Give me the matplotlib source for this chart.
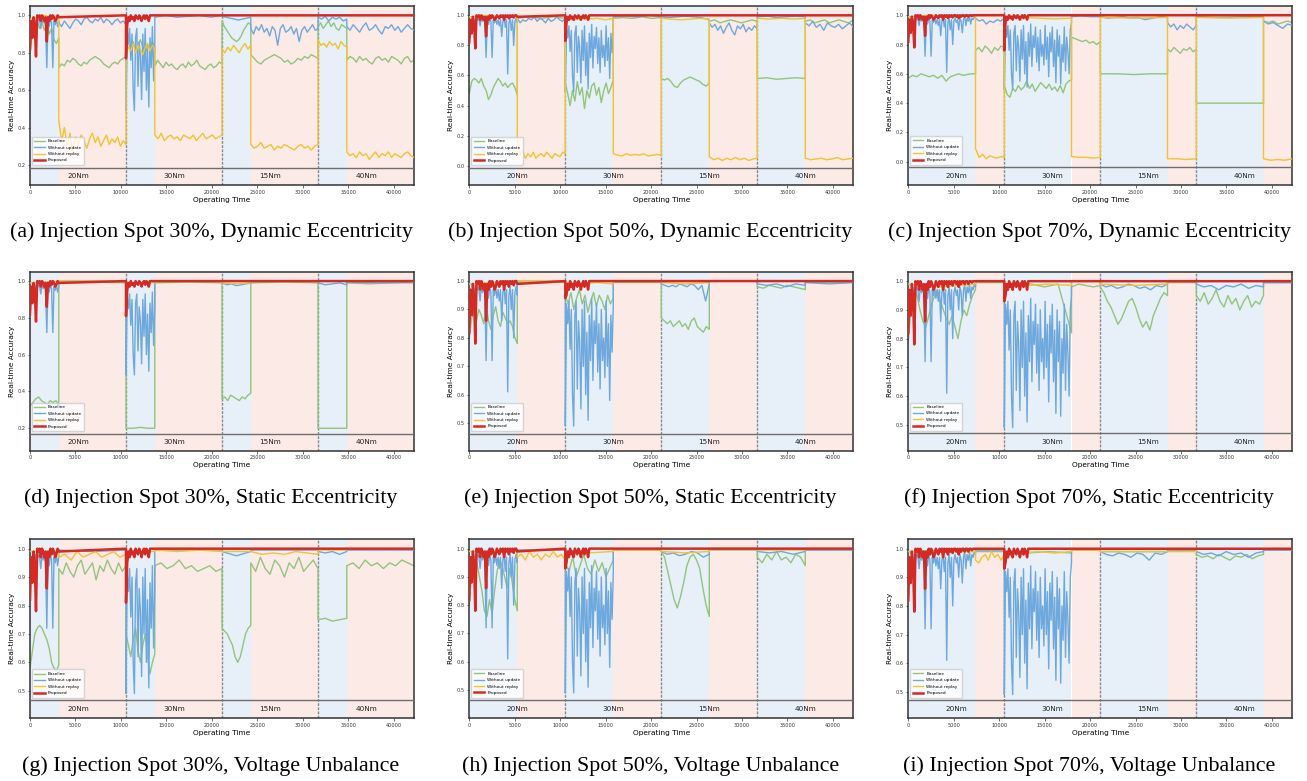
import numpy as np
import matplotlib
matplotlib.use("Agg")
import matplotlib.pyplot as plt

# ---------------- structure ----------------
D = 10560            # length of one operating-condition domain
XMAX = 4 * D
STEP = 132           # spacing of the shared arrays below
domain_labels = ["20Nm", "30Nm", "15Nm", "40Nm"]
series_names = ["Baseline", "Without update", "Without replay", "Proposed"]
colors = ["#93c47d", "#6fa8dc", "#f1c232", "#d42a24"]

panel_letters = ["a", "b", "c", "d", "e", "f", "g", "h", "i"]
spots = [30, 50, 70, 30, 50, 70, 30, 50, 70]
faults = ["Dynamic Eccentricity"] * 3 + ["Static Eccentricity"] * 3 + ["Voltage Unbalance"] * 3

# ---------------- shared pieces ----------------
upd_d1 = [0.90, 0.96, 0.93, 0.97, 0.95, 0.98, 0.96, 0.98, 0.97, 0.93, 0.98, 0.96, 0.98, 0.95, 0.72,
          0.97, 0.94, 0.98, 0.96, 0.72, 0.97, 0.95, 0.98, 0.94, 0.97, 0.93, 0.97, 0.86, 0.96, 0.98,
          0.92, 0.97, 0.61, 0.95, 0.98, 0.90, 0.97, 0.80, 0.96, 0.98, 0.95, 0.97, 0.90, 0.98, 0.96,
          0.88, 0.97, 0.99, 0.93, 0.98, 0.96, 0.99, 0.94, 0.98, 0.97, 0.99, 0.98]
upd_d2 = [0.49, 0.92, 0.85, 0.93, 0.76, 0.90, 0.60, 0.49, 0.88, 0.93, 0.62, 0.86, 0.78, 0.55, 0.90,
          0.70, 0.93, 0.60, 0.82, 0.51, 0.88, 0.72, 0.94, 0.65, 0.86, 0.78, 0.92, 0.68, 0.85, 0.62,
          0.90, 0.72, 0.80, 0.66, 0.93, 0.70, 0.85, 0.58, 0.88, 0.75, 0.92, 0.65, 0.83, 0.54, 0.90,
          0.72, 0.86, 0.53, 0.80, 0.68, 0.92, 0.62, 0.85, 0.75, 0.60, 0.90, 0.95]
prop_d1 = [0.82, 0.97, 0.88, 0.99, 0.94, 0.78, 1.00, 0.99, 1.00, 0.97, 1.00, 0.99, 0.97, 0.99, 0.86,
           0.99, 0.97, 1.00, 0.98, 1.00, 0.99, 0.97, 0.98, 1.00, 0.99, 0.98, 1.00, 0.99, 1.00, 0.97,
           1.00, 0.99, 1.00, 0.98, 1.00, 0.99, 1.00, 0.985, 1.00, 1.00, 0.99, 1.00, 0.98, 1.00, 0.99,
           1.00, 1.00, 0.99, 1.00, 1.00, 0.99, 1.00, 1.00, 0.995, 1.00, 1.00, 1.00]
prop_d2 = [0.82, 0.95, 0.99, 0.97, 1.00, 0.98, 0.99, 0.97, 1.00, 0.99, 0.98, 1.00, 0.99, 0.97, 0.99,
           1.00, 0.98, 1.00, 0.99, 0.97, 1.00]
prop_dip = [0.77, 0.83, 0.76, 0.81, 0.94, 0.93, 0.81, 0.93, 0.93]

# ---------------- per-panel pieces: [B1, R1, B2, R2, B3, R3, B4, R4] ----------------
a_base = [[0.80, 0.90, 0.95, 0.97, 0.93, 0.96, 0.92, 0.95, 0.90, 0.93, 0.87, 0.85, 0.88],
          [0.72, 0.74, 0.73, 0.76, 0.75, 0.77, 0.76, 0.74, 0.73, 0.75, 0.74, 0.76, 0.77, 0.78, 0.77, 0.76, 0.74, 0.73, 0.72, 0.74, 0.75, 0.74, 0.76, 0.77, 0.78],
          [0.89, 0.85, 0.82, 0.86, 0.80, 0.84, 0.87, 0.83, 0.79, 0.84, 0.82, 0.86, 0.83],
          [0.73, 0.76, 0.74, 0.72, 0.75, 0.73, 0.74, 0.72, 0.71, 0.73, 0.74, 0.72, 0.75, 0.73, 0.74, 0.76, 0.73, 0.72, 0.71, 0.73, 0.74, 0.72, 0.73, 0.75, 0.74],
          [0.97, 0.94, 0.92, 0.90, 0.88, 0.87, 0.86, 0.87, 0.89, 0.92, 0.94, 0.96, 0.95],
          [0.79, 0.77, 0.75, 0.74, 0.76, 0.77, 0.78, 0.79, 0.78, 0.77, 0.75, 0.76, 0.74, 0.75, 0.77, 0.76, 0.78, 0.77, 0.79, 0.78, 0.77],
          [0.94, 0.96, 0.93, 0.95, 0.97, 0.94, 0.96, 0.93, 0.92, 0.95, 0.94, 0.93],
          [0.76, 0.78, 0.77, 0.75, 0.78, 0.76, 0.77, 0.75, 0.74, 0.77, 0.78, 0.76, 0.77, 0.75, 0.78, 0.77, 0.76, 0.74, 0.77, 0.78, 0.75, 0.76]]
a_upd = [None,
         [0.96, 0.94, 0.97, 0.95, 0.93, 0.96, 0.98, 0.97, 0.95, 0.98, 0.99, 0.97, 0.96, 0.98, 0.97, 0.99, 0.96, 0.98, 0.97, 0.95, 0.97, 0.98, 0.96, 0.97, 0.95],
         None,
         [0.99, 1.00, 0.99, 0.995, 1.00, 0.99, 1.00],
         [0.995, 0.99, 0.985, 0.98, 0.975, 0.98, 0.985, 0.99],
         [0.93, 0.90, 0.94, 0.92, 0.95, 0.91, 0.93, 0.89, 0.94, 0.92, 0.84, 0.93, 0.95, 0.91, 0.92, 0.94, 0.90, 0.93, 0.86, 0.92, 0.94, 0.91, 0.93, 0.95, 0.92, 0.93],
         [0.99, 0.98, 0.995, 0.97, 0.99, 0.98, 0.99, 0.97, 0.98],
         [0.94, 0.92, 0.95, 0.93, 0.91, 0.94, 0.96, 0.92, 0.93, 0.95, 0.92, 0.90, 0.94, 0.93, 0.95, 0.92, 0.94, 0.91, 0.93, 0.95, 0.93, 0.92]]
a_rep = [[0.98, 0.99, 1.00, 0.99, 1.00],
         [0.44, 0.33, 0.40, 0.30, 0.37, 0.27, 0.35, 0.31, 0.36, 0.33, 0.29, 0.34, 0.37, 0.32, 0.35, 0.30, 0.33, 0.36, 0.31, 0.34, 0.32, 0.35, 0.30, 0.33, 0.31],
         [0.80, 0.83, 0.81, 0.85, 0.80, 0.84, 0.82, 0.79, 0.83, 0.85, 0.81, 0.84, 0.82],
         [0.36, 0.34, 0.37, 0.33, 0.35, 0.36, 0.34, 0.35, 0.33, 0.36, 0.35, 0.34, 0.36, 0.33, 0.35, 0.37, 0.34, 0.35, 0.36, 0.34, 0.35, 0.36],
         [0.82, 0.80, 0.83, 0.81, 0.84, 0.82, 0.80, 0.83, 0.85, 0.82, 0.84],
         [0.31, 0.29, 0.30, 0.32, 0.29, 0.30, 0.31, 0.28, 0.30, 0.29, 0.31, 0.30, 0.29, 0.28, 0.30, 0.31, 0.29, 0.30, 0.28, 0.30, 0.31],
         [0.87, 0.84, 0.85, 0.83, 0.86, 0.84, 0.85, 0.82, 0.86, 0.84, 0.83],
         [0.27, 0.25, 0.26, 0.24, 0.27, 0.25, 0.26, 0.23, 0.25, 0.27, 0.24, 0.26, 0.25, 0.27, 0.24, 0.26, 0.25, 0.24, 0.26, 0.27, 0.25, 0.24]]

b_base = [[0.48, 0.56, 0.58, 0.57, 0.55, 0.58, 0.53, 0.50, 0.44, 0.47, 0.52, 0.55, 0.58, 0.56, 0.53, 0.55, 0.52, 0.54, 0.55, 0.52, 0.47],
          [0.98, 0.99, 0.98, 0.99, 0.98],
          [0.55, 0.48, 0.40, 0.50, 0.43, 0.56, 0.47, 0.52, 0.38, 0.50, 0.45, 0.53, 0.55, 0.47, 0.52, 0.42, 0.50, 0.55, 0.48, 0.52, 0.57],
          [0.98, 0.985, 0.98, 0.99, 0.98, 0.985],
          [0.58, 0.57, 0.58, 0.56, 0.53, 0.52, 0.55, 0.57, 0.58, 0.59, 0.58, 0.57, 0.56, 0.54, 0.53, 0.55],
          [0.96, 0.97, 0.95, 0.96, 0.97, 0.96, 0.95, 0.96, 0.97, 0.96],
          [0.58, 0.585, 0.575, 0.58, 0.585, 0.58],
          [0.96, 0.97, 0.95, 0.96, 0.97, 0.95, 0.96, 0.97, 0.96, 0.95, 0.97]]
b_upd = [None,
         [0.98, 0.95, 0.97, 0.96, 0.98, 0.97, 0.99, 0.96, 0.98, 0.97, 0.95, 0.98, 0.96, 0.97, 0.99, 0.97, 0.96, 0.98],
         None,
         [0.99, 0.995, 0.99, 1.00, 0.99],
         [0.99, 0.985, 0.99, 0.995, 0.99, 0.985, 0.97],
         [0.95, 0.92, 0.94, 0.90, 0.93, 0.88, 0.92, 0.95, 0.90, 0.87, 0.93, 0.91, 0.94, 0.89, 0.92, 0.90, 0.93, 0.91],
         [0.99, 0.995, 0.985, 0.99, 0.995, 0.99],
         [0.95, 0.93, 0.96, 0.92, 0.94, 0.90, 0.95, 0.93, 0.92, 0.94, 0.91, 0.93, 0.95, 0.92]]
b_rep = [[0.99, 1.00, 0.99, 1.00],
         [0.18, 0.07, 0.10, 0.05, 0.08, 0.06, 0.09, 0.05, 0.07, 0.08, 0.06, 0.09, 0.07, 0.05, 0.08, 0.07, 0.06, 0.09, 0.08],
         [0.98, 0.97, 0.98, 0.975, 0.98, 0.97, 0.98],
         [0.08, 0.07, 0.065, 0.08, 0.07, 0.075, 0.07, 0.08, 0.065, 0.07, 0.075, 0.07],
         [0.98, 0.975, 0.97, 0.975, 0.98, 0.975],
         [0.06, 0.04, 0.05, 0.035, 0.05, 0.04, 0.055, 0.04, 0.05, 0.035, 0.045, 0.05],
         [0.98, 0.975, 0.98, 0.975, 0.98],
         [0.05, 0.04, 0.045, 0.05, 0.04, 0.045, 0.055, 0.04, 0.045, 0.05]]

c_base = [[0.57, 0.59, 0.58, 0.60, 0.59, 0.58, 0.59, 0.57, 0.59, 0.55, 0.58, 0.59, 0.60, 0.59, 0.595, 0.60, 0.60],
          [0.76, 0.78, 0.75, 0.79, 0.77, 0.74, 0.78, 0.76, 0.79, 0.78],
          [0.52, 0.46, 0.44, 0.50, 0.48, 0.52, 0.49, 0.51, 0.55, 0.50, 0.53, 0.48, 0.51, 0.54, 0.52, 0.50, 0.53, 0.49, 0.51, 0.48, 0.52, 0.47, 0.53, 0.55, 0.56],
          [0.85, 0.84, 0.83, 0.82, 0.83, 0.81, 0.82, 0.80, 0.82],
          [0.60, 0.60, 0.595, 0.60, 0.60],
          [0.77, 0.75, 0.78, 0.76, 0.74, 0.77, 0.76, 0.78, 0.75, 0.77],
          [0.40, 0.40, 0.40],
          [0.96, 0.95, 0.96, 0.94, 0.95, 0.96, 0.95]]
c_upd = [None,
         [0.98, 0.96, 0.97, 0.94, 0.96, 0.95, 0.97, 0.96, 0.98],
         None,
         [0.99, 0.995, 0.99, 0.99],
         [0.99, 0.98, 0.985, 0.99, 0.98, 0.985, 0.97, 0.98, 0.99, 0.985],
         [0.95, 0.92, 0.94, 0.90, 0.93, 0.91, 0.94, 0.92, 0.90, 0.93],
         [0.99, 0.985, 0.99, 0.99],
         [0.96, 0.94, 0.95, 0.93, 0.91, 0.94, 0.93]]
c_rep = [[0.99, 1.00, 0.99, 1.00],
         [0.09, 0.03, 0.05, 0.02, 0.04, 0.03, 0.025, 0.035, 0.03],
         [0.98, 0.985, 0.98, 0.975, 0.98],
         [0.035, 0.03, 0.03, 0.025, 0.03],
         [0.985, 0.98, 0.985],
         [0.02, 0.02, 0.015, 0.02],
         [0.985, 0.98, 0.985],
         [0.02, 0.01, 0.015, 0.01, 0.02]]

d_base = [[0.32, 0.34, 0.36, 0.37, 0.35, 0.34, 0.33, 0.35, 0.34, 0.35, 0.33],
          [0.99, 0.995, 0.99],
          [0.20, 0.20, 0.205, 0.20, 0.20],
          [0.99, 0.995, 0.99],
          [0.36, 0.37, 0.35, 0.38, 0.37, 0.36, 0.35, 0.37, 0.36, 0.38, 0.39],
          [0.99, 0.995, 0.99],
          [0.20, 0.20],
          [0.99, 0.985, 0.99, 0.99]]
d_upd = [None, [1.0, 1.0], None, [1.0, 1.0],
         [0.99, 0.98, 0.985, 0.975, 0.98, 0.985, 0.99],
         [1.0, 1.0],
         [0.99, 0.98, 0.985, 0.99, 0.98],
         [0.995, 0.99, 0.995]]
d_rep = [[0.99, 1.0], [1.0, 1.0], [0.99, 0.98, 0.99, 1.0, 0.99], [1.0, 1.0],
         [0.99, 0.985, 0.99], [1.0, 1.0], [1.0, 1.0], [1.0, 1.0]]

e_base = [[0.80, 0.87, 0.89, 0.86, 0.90, 0.88, 0.85, 0.92, 0.86, 0.83, 0.88, 0.91, 0.86, 0.84, 0.89, 0.87, 0.85, 0.86, 0.84, 0.80, 0.78],
          [0.995, 0.995],
          [0.95, 0.92, 0.96, 0.90, 0.94, 0.97, 0.92, 0.95, 0.89, 0.93, 0.96, 0.91, 0.95, 0.93, 0.90, 0.95, 0.92, 0.94],
          [0.995, 0.995],
          [0.87, 0.86, 0.85, 0.86, 0.84, 0.85, 0.86, 0.84, 0.85, 0.83, 0.86, 0.87, 0.84, 0.83, 0.82, 0.84, 0.83],
          [1.0, 1.0],
          [0.98, 0.975, 0.985, 0.98, 0.975, 0.985, 0.98, 0.975, 0.97],
          [0.995, 0.995]]
e_upd = [None, [1.0, 1.0], None, [1.0, 1.0],
         [0.99, 0.985, 0.98, 0.985, 0.98, 0.99, 0.985, 0.98, 0.99, 0.985, 0.97, 0.985, 0.93, 0.99],
         [1.0, 1.0],
         [0.99, 0.985, 0.99, 0.98, 0.99, 0.985],
         [0.995, 0.99, 0.995]]
e_rep = [[0.99, 1.0], [1.0, 1.0], [0.995, 0.99, 0.995, 0.99], [1.0, 1.0],
         [0.995, 0.99, 0.995], [1.0, 1.0], [1.0, 1.0], [1.0, 1.0]]

f_base = [[0.79, 0.92, 0.97, 0.95, 0.90, 0.86, 0.84, 0.88, 0.92, 0.95, 0.97, 0.93, 0.90, 0.87, 0.85, 0.88, 0.84, 0.80, 0.86, 0.90, 0.88, 0.92, 0.95, 0.97],
          [0.995, 0.995],
          [0.99, 0.995, 0.99, 0.98, 0.99, 0.82],
          [0.98, 0.99, 0.985, 0.98, 0.985],
          [0.98, 0.96, 0.93, 0.91, 0.88, 0.85, 0.87, 0.90, 0.93, 0.94, 0.91, 0.87, 0.84, 0.86, 0.83, 0.88, 0.91, 0.94, 0.96, 0.95],
          [0.995, 0.995],
          [0.95, 0.93, 0.96, 0.92, 0.94, 0.97, 0.93, 0.91, 0.95, 0.92, 0.94, 0.90, 0.93, 0.95, 0.91, 0.93, 0.92, 0.95],
          [0.995, 0.995]]
f_upd = [None, [1.0, 1.0], None, [1.0, 1.0],
         [0.99, 0.98, 0.985, 0.975, 0.98, 0.99, 0.985, 0.975, 0.98, 0.97, 0.985, 0.98, 0.99],
         [1.0, 1.0],
         [0.99, 0.98, 0.985, 0.97, 0.985, 0.98, 0.99, 0.975, 0.985, 0.98],
         [0.995, 0.995]]
f_rep = [[0.99, 0.98, 0.99], [1.0, 1.0], [0.99, 0.985, 0.99, 0.985], [1.0, 1.0],
         [0.99, 0.985, 0.99], [1.0, 1.0], [1.0, 1.0], [1.0, 1.0]]

g_base = [[0.58, 0.64, 0.70, 0.72, 0.73, 0.72, 0.70, 0.68, 0.65, 0.60, 0.58, 0.57, 0.59],
          [0.93, 0.91, 0.95, 0.92, 0.90, 0.94, 0.96, 0.91, 0.93, 0.95, 0.89, 0.94, 0.92, 0.96, 0.93, 0.91, 0.95, 0.92, 0.94],
          [0.70, 0.66, 0.62, 0.68, 0.72, 0.64, 0.60, 0.66, 0.70, 0.62, 0.56, 0.60, 0.63],
          [0.94, 0.95, 0.93, 0.94, 0.96, 0.93, 0.94, 0.92, 0.93, 0.94, 0.92, 0.93],
          [0.72, 0.71, 0.70, 0.68, 0.66, 0.62, 0.60, 0.62, 0.66, 0.70, 0.72, 0.73],
          [0.95, 0.92, 0.97, 0.93, 0.91, 0.96, 0.94, 0.90, 0.95, 0.93, 0.97, 0.92, 0.94, 0.96, 0.93],
          [0.75, 0.755, 0.745, 0.75, 0.755],
          [0.94, 0.95, 0.93, 0.96, 0.94, 0.95, 0.93, 0.95, 0.94, 0.96, 0.95, 0.94]]
g_upd = [None, [0.995, 0.99, 0.995], None, [0.995, 0.995],
         [0.99, 0.985, 0.98, 0.975, 0.98, 0.985, 0.99],
         [0.995, 0.995],
         [0.99, 0.985, 0.99, 0.98, 0.99],
         [0.995, 0.995]]
g_rep = [[0.99, 0.99],
         [0.97, 0.98, 0.96, 0.99, 0.97, 0.98, 0.99, 0.97, 0.98, 0.99, 0.97, 0.98],
         [0.99, 0.99],
         [0.995, 0.99, 0.995, 0.99],
         [0.99, 0.99],
         [0.99, 0.98, 0.985, 0.98, 0.99, 0.985, 0.98],
         [0.995, 0.995],
         [1.0, 1.0]]

h_base = [[0.80, 0.93, 0.97, 0.95, 0.90, 0.85, 0.78, 0.76, 0.82, 0.77, 0.85, 0.92, 0.96, 0.94, 0.90, 0.86, 0.93, 0.88, 0.82, 0.78],
          [0.995, 0.995],
          [0.95, 0.92, 0.97, 0.90, 0.94, 0.98, 0.93, 0.91, 0.96, 0.92, 0.95, 0.90, 0.93, 0.96],
          [0.995, 0.995],
          [0.99, 0.97, 0.92, 0.87, 0.82, 0.79, 0.83, 0.88, 0.94, 0.97, 0.98, 0.96, 0.93, 0.86, 0.80, 0.76],
          [0.995, 0.995],
          [0.97, 0.95, 0.98, 0.96, 0.99, 0.96, 0.97, 0.95, 0.98, 0.97, 0.94],
          [0.995, 0.995]]
h_upd = [None, [0.995, 0.995], None, [0.995, 0.995],
         [0.99, 0.98, 0.985, 0.975, 0.98, 0.99, 0.985, 0.97, 0.98],
         [1.0, 1.0],
         [0.99, 0.985, 0.99, 0.98, 0.99],
         [0.995, 0.995]]
h_rep = [[0.99, 0.99],
         [0.97, 0.98, 0.96, 0.99, 0.97, 0.98, 0.96, 0.98, 0.97, 0.99, 0.97, 0.98, 0.96],
         [0.99, 0.985, 0.99],
         [0.995, 0.995],
         [0.99, 0.985, 0.99],
         [1.0, 1.0], [0.995, 0.995], [1.0, 1.0]]

i_base = [[0.99, 0.995, 0.99],
          [0.99, 0.99],
          [0.99, 0.985, 0.99, 0.985],
          [0.995, 0.995],
          [0.99, 0.99],
          [0.995, 0.995],
          [0.98, 0.97, 0.975, 0.965, 0.98, 0.97, 0.96, 0.975, 0.97, 0.98, 0.965, 0.975, 0.98],
          [0.995, 0.995]]
i_upd = [None, [0.995, 0.995], None, [0.995, 0.995],
         [0.99, 0.98, 0.975, 0.985, 0.98, 0.97, 0.985, 0.98, 0.96, 0.985, 0.98, 0.99],
         [0.995, 0.995],
         [0.99, 0.98, 0.985, 0.975, 0.99, 0.98, 0.985, 0.97, 0.985, 0.99],
         [0.995, 0.995]]
i_rep = [[0.99, 0.99],
         [0.96, 0.95, 0.97, 0.98, 0.96, 0.99, 0.97, 0.98, 0.96, 0.98],
         [0.99, 0.985, 0.99, 0.985, 0.99],
         [0.995, 0.995],
         [0.99, 0.99],
         [0.99, 0.99],
         [1.0, 1.0], [1.0, 1.0]]

panel_base = [a_base, b_base, c_base, d_base, e_base, f_base, g_base, h_base, i_base]
panel_upd = [a_upd, b_upd, c_upd, d_upd, e_upd, f_upd, g_upd, h_upd, i_upd]
panel_rep = [a_rep, b_rep, c_rep, d_rep, e_rep, f_rep, g_rep, h_rep, i_rep]

# axis ranges
ylims = [(0.093, 1.050), (-0.128, 1.062), (-0.159, 1.063),
         (0.078, 1.051), (0.403, 1.033), (0.410, 1.033),
         (0.403, 1.033), (0.400, 1.033), (0.407, 1.033)]
strip_line = [0.186, -0.013, -0.038, 0.170, 0.463, 0.470, 0.466, 0.464, 0.470]
yticks_sets = [np.arange(0.2, 1.01, 0.2), np.arange(0.0, 1.01, 0.2), np.arange(0.0, 1.01, 0.2),
               np.arange(0.2, 1.01, 0.2)] + [np.arange(0.5, 1.01, 0.1)] * 5


def phase_bounds(s):
    b = []
    for d in range(4):
        b.append((d * D, d * D + s * D))
        b.append((d * D + s * D, (d + 1) * D))
    return b


def build(pieces, s, shared1, shared2):
    n = int(round(s * 80)) + 1
    full = list(pieces)
    if full[0] is None:
        full[0] = shared1[:n]
    if full[2] is None:
        full[2] = shared2[:n]
    xs, ys = [], []
    for (x0, x1), v in zip(phase_bounds(s), full):
        xs.append(np.linspace(x0, x1, len(v)))
        ys.append(np.asarray(v, float))
    return np.concatenate(xs), np.concatenate(ys)


def build_prop(s, dip):
    n = int(round(s * 80)) + 1
    y1 = np.asarray(prop_d1[:n], float)
    x1 = np.arange(n) * STEP
    y2 = np.asarray([dip] + prop_d2[1:], float)
    x2 = D + np.arange(len(y2)) * STEP
    x = np.concatenate([x1, [D], x2, [XMAX]])
    y = np.concatenate([y1, [1.0], y2, [1.0]])
    return x, y


fig = plt.figure(figsize=(13.07, 7.81), dpi=100)
lefts = [30 / 1307, 469.3 / 1307, 908.3 / 1307]
width = 384 / 1307
bottoms = [1 - 185 / 781, 1 - 450.7 / 781, 1 - 718.3 / 781]
height = 179 / 781
caption_y = [1 - 232 / 781, 1 - 498 / 781, 1 - 766 / 781]

blue_bg = "#e7eff8"
red_bg = "#fceae7"

for k in range(9):
    r, c = divmod(k, 3)
    ax = fig.add_axes([lefts[c], bottoms[r], width, height])
    s = spots[k] / 100.0
    y0, y1 = ylims[k]
    for d in range(4):
        ax.axvspan(d * D, d * D + s * D, color=blue_bg, lw=0, zorder=0)
        ax.axvspan(d * D + s * D, (d + 1) * D, color=red_bg, lw=0, zorder=0)
    for d in range(1, 4):
        ax.axvline(d * D, color="#8a8a8a", ls=(0, (2, 1)), lw=1.0, zorder=1)

    xb, yb = build(panel_base[k], s, upd_d1, upd_d2)
    xu, yu = build(panel_upd[k], s, upd_d1, upd_d2)
    xr, yr = build(panel_rep[k], s, upd_d1, upd_d2)
    xp, yp = build_prop(s, prop_dip[k])
    ax.plot(xb, yb, color=colors[0], lw=1.0, label=series_names[0], zorder=2)
    ax.plot(xu, yu, color=colors[1], lw=1.0, label=series_names[1], zorder=3)
    ax.plot(xr, yr, color=colors[2], lw=1.0, label=series_names[2], zorder=4)
    ax.plot(xp, yp, color=colors[3], lw=1.8, label=series_names[3], zorder=5)

    ax.axhline(strip_line[k], color="#6e6e6e", lw=1.0, zorder=6)
    for d in range(4):
        ax.text(d * D + D / 2, (y0 + strip_line[k]) / 2, domain_labels[d],
                ha="center", va="center", fontsize=5.2, color="#222222", zorder=7)

    ax.set_xlim(0, XMAX)
    ax.set_ylim(y0, y1)
    ax.set_xticks(np.arange(0, 40001, 5000))
    ax.set_yticks(yticks_sets[k])
    ax.set_yticklabels([f"{v:.1f}" for v in yticks_sets[k]])
    ax.tick_params(labelsize=3.6, length=1.8, width=0.5, pad=1.5, colors="#333333")
    for sp in ax.spines.values():
        sp.set_linewidth(1.1)
        sp.set_color("#333333")
    ax.set_xlabel("Operating Time", fontsize=5.3, labelpad=1.5)
    ax.set_ylabel("Real-time Accuracy", fontsize=5.3, labelpad=2)

    frac = (strip_line[k] - y0) / (y1 - y0)
    leg = ax.legend(loc="lower left", bbox_to_anchor=(0.0, frac + 0.005), fontsize=3.1,
                    handlelength=2.4, borderpad=0.6, labelspacing=0.55, frameon=True,
                    fancybox=True, framealpha=0.8, edgecolor="#cccccc", borderaxespad=0.4)
    leg.set_zorder(8)

    fig.text(lefts[c] + width / 2 - 11 / 1307, caption_y[r],
             f"({panel_letters[k]}) Injection Spot {spots[k]}%, {faults[k]}",
             ha="center", va="center", fontsize=15.8, family="Liberation Serif")

fig.savefig("out.png", dpi=100)
